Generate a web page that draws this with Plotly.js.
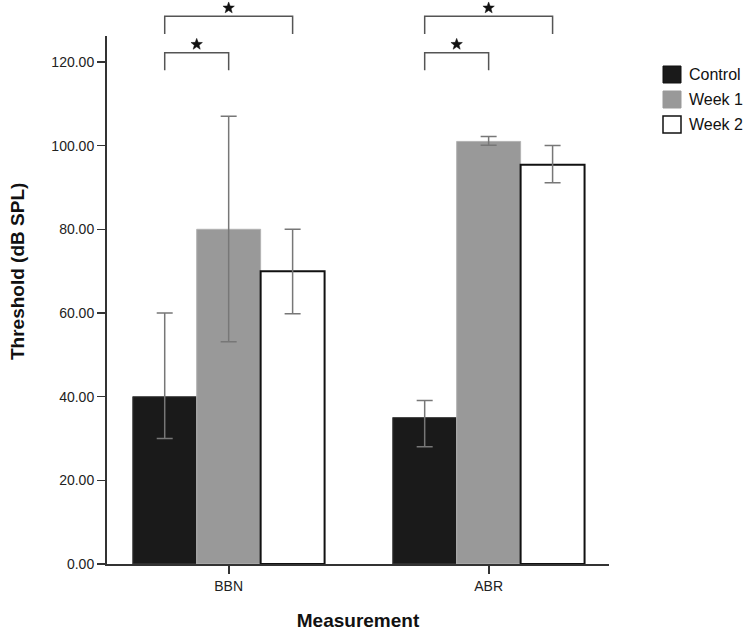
<!DOCTYPE html>
<html>
<head>
<meta charset="utf-8">
<script src="https://cdn.plot.ly/plotly-3.0.1.min.js"></script>
<style>html,body{margin:0;padding:0;background:#fff;}#chart{width:750px;height:633px;}</style>
</head>
<body>
<div id="chart"></div>
<script>
// ---- data ----
const categories = ['BBN', 'ABR'];
const seriesNames = ['Control', 'Week 1', 'Week 2'];
const control = [40, 35];
const week1 = [80, 101];
const week2 = [70, 95.4];
const controlHigh = [60, 39.1];
const controlLow = [30, 28];
const week1High = [107, 102.2];
const week1Low = [53.1, 100.1];
const week2High = [80, 100];
const week2Low = [59.8, 91.1];
// significance brackets: [category index, series a, series b, bracket level]
const sigPairs = [[0, 0, 1, 1], [0, 0, 2, 2], [1, 0, 1, 1], [1, 0, 2, 2]];

// ---- style ----
const fills = ['#1a1a1a', '#999999', '#ffffff'];
const edges = ['#444444', '#b3b3b3', '#111111'];
const edgeW = [1, 1, 2];
const M = {l: 107, r: 141, t: 36, b: 69};
const W = 750 - M.l - M.r, H = 633 - M.t - M.b;
const xRange = [-0.468, 1.463];
const yRange = [0, 126.2];
const bargap = 0.262;
const barW = (1 - bargap) / 3;
const font = 'Liberation Sans, Arial, Helvetica, sans-serif';

const values = [control, week1, week2];
const highs = [controlHigh, week1High, week2High];
const lows = [controlLow, week1Low, week2Low];

const traces = seriesNames.map((name, s) => ({
  type: 'bar',
  name: name,
  x: categories,
  y: values[s],
  marker: {color: fills[s], line: {color: edges[s], width: edgeW[s]}},
  error_y: {
    type: 'data', symmetric: false,
    array: values[s].map((v, i) => highs[s][i] - v),
    arrayminus: values[s].map((v, i) => v - lows[s][i]),
    color: '#777777', thickness: 1.5, width: 8
  },
  showlegend: false,
  hoverinfo: 'x+y+name'
}));

const xp = v => (v - xRange[0]) / (xRange[1] - xRange[0]);
const yp = v => (v - yRange[0]) / (yRange[1] - yRange[0]);
const pxX = p => (p - M.l) / W;
const pxY = p => (M.t + H - p) / H;

// star polygon path in paper coords, radius in pixels
function starPath(cx, cy, R, r) {
  let d = '';
  for (let k = 0; k < 10; k++) {
    const ang = -Math.PI / 2 + k * Math.PI / 5;
    const rad = k % 2 === 0 ? R : r;
    const x = cx + rad * Math.cos(ang) / W;
    const y = cy - rad * Math.sin(ang) / H;
    d += (k === 0 ? 'M ' : ' L ') + x + ',' + y;
  }
  return d + ' Z';
}

const shapes = [];
const annotations = [];
sigPairs.forEach(([c, a, b, lvl]) => {
  const xa = xp(c + (a - 1) * barW);
  const xb = xp(c + (b - 1) * barW);
  const yTop = 113.5 + lvl * 8.7;
  const yLeg = yTop - 4.2;
  shapes.push({
    type: 'path', xref: 'paper', yref: 'paper',
    path: `M ${xa},${yp(yLeg)} L ${xa},${yp(yTop)} L ${xb},${yp(yTop)} L ${xb},${yp(yLeg)}`,
    line: {color: '#555555', width: 1.5}
  });
  shapes.push({
    type: 'path', xref: 'paper', yref: 'paper',
    path: starPath((xa + xb) / 2, yp(yTop + 2.0), 6, 2.5),
    fillcolor: '#111111', line: {color: '#111111', width: 0.5}
  });
});

// custom legend
seriesNames.forEach((name, s) => {
  const top = 66 + s * 25;
  shapes.push({
    type: 'rect', xref: 'paper', yref: 'paper',
    x0: pxX(663), x1: pxX(681), y0: pxY(top), y1: pxY(top + 17),
    fillcolor: fills[s], line: {color: s === 1 ? fills[s] : '#111111', width: s === 2 ? 1.5 : 1}
  });
  annotations.push({
    xref: 'paper', yref: 'paper', x: pxX(687), y: pxY(top + 8.5),
    text: name, showarrow: false, xanchor: 'left', yanchor: 'middle',
    font: {family: font, size: 16, color: '#111111'}
  });
});

// y-axis title
annotations.push({
  xref: 'paper', yref: 'paper', x: pxX(17), y: pxY(272), textangle: -90,
  text: '<b>Threshold (dB SPL)</b>', showarrow: false, xanchor: 'center', yanchor: 'middle',
  font: {family: font, size: 19, color: '#111111'}
});

const layout = {
  width: 750, height: 633,
  margin: M,
  paper_bgcolor: '#ffffff', plot_bgcolor: '#ffffff',
  barmode: 'group', bargap: bargap, bargroupgap: 0,
  showlegend: false,
  font: {family: font, size: 14, color: '#222222'},
  xaxis: {
    type: 'category', range: xRange,
    showline: true, linecolor: '#333333', linewidth: 2,
    ticks: 'outside', ticklen: 8, tickwidth: 2, tickcolor: '#333333',
    showgrid: false, zeroline: false,
    tickfont: {family: font, size: 14, color: '#222222'},
    title: {text: '<b>Measurement</b>', font: {family: font, size: 19, color: '#111111'}, standoff: 21}
  },
  yaxis: {
    range: yRange, dtick: 20, tick0: 0, tickformat: '.2f',
    showline: true, linecolor: '#333333', linewidth: 2,
    ticks: 'outside', ticklen: 8, tickwidth: 1.5, tickcolor: '#333333',
    showgrid: false, zeroline: false,
    tickfont: {family: font, size: 14, color: '#222222'}
  },
  shapes: shapes,
  annotations: annotations
};

Plotly.newPlot('chart', traces, layout, {displayModeBar: false, staticPlot: true});
</script>
</body>
</html>
